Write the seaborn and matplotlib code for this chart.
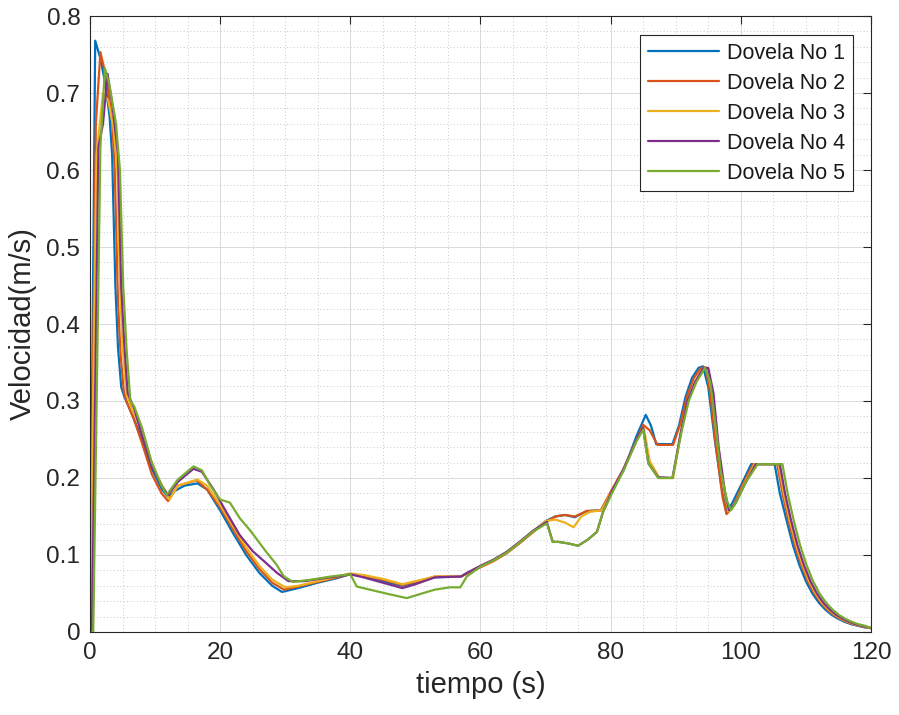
import numpy as np
import pandas as pd
import matplotlib
matplotlib.use("Agg")
import matplotlib.pyplot as plt
from matplotlib.ticker import MultipleLocator, FuncFormatter
import seaborn as sns

labels = ["Dovela No 1", "Dovela No 2", "Dovela No 3", "Dovela No 4", "Dovela No 5"]
colors = ["#0072BD", "#D95319", "#EDB120", "#7E2F8E", "#77AC30"]

t1 = [0, 0.8, 1.6, 2.4, 3.0, 3.4, 3.9, 4.3, 4.8, 5.3, 6.5, 8.0, 9.5, 11.0, 12.0, 13.0,
      14.5, 16.5, 18.0, 20.0, 22.0, 24.0, 26.0, 28.0, 29.5, 32, 35, 38, 40, 42, 45, 48,
      50, 53, 57, 58, 60, 62, 64, 66, 68, 70, 71.5, 73, 74.5, 76.3, 78.5, 80, 82, 84,
      85.4, 86.2, 87, 89.5, 90.5, 91.5, 92.5, 93.5, 94.2, 95, 96, 97, 97.8, 98.6, 100,
      101.6, 105.2, 106, 107, 108, 109, 110, 111, 112, 113, 114, 115, 116, 117, 118, 119, 120]
v1 = [0, 0.768, 0.745, 0.71, 0.67, 0.62, 0.45, 0.37, 0.318, 0.305, 0.282, 0.25, 0.212,
      0.186, 0.175, 0.183, 0.19, 0.193, 0.185, 0.158, 0.128, 0.100, 0.077, 0.060, 0.052,
      0.057, 0.064, 0.070, 0.075, 0.072, 0.066, 0.060, 0.064, 0.071, 0.072, 0.077, 0.085,
      0.093, 0.103, 0.116, 0.130, 0.144, 0.150, 0.152, 0.149, 0.157, 0.158, 0.18, 0.21,
      0.255, 0.282, 0.268, 0.244, 0.244, 0.268, 0.305, 0.330, 0.343, 0.345, 0.318, 0.25,
      0.19, 0.158, 0.166, 0.19, 0.218, 0.218, 0.18, 0.146, 0.113, 0.087, 0.066, 0.050,
      0.038, 0.029, 0.022, 0.017, 0.013, 0.010, 0.008, 0.006, 0.005]

t2 = [0, 0.9, 1.6, 2.5, 3.4, 3.8, 4.3, 4.7, 5.2, 5.6, 6.8, 8.0, 9.5, 11.0, 12.0, 13.5,
      16.4, 18.0, 20.0, 22.0, 24.0, 26.0, 28.0, 29.8, 32, 35, 38, 40, 42, 45, 48, 50, 53,
      57, 58, 60, 62, 64, 66, 68, 70, 71.5, 73, 74.5, 76.3, 78.5, 80, 82, 84, 85, 86,
      87.2, 89.6, 90.7, 91.7, 92.8, 93.8, 94.6, 95.3, 96.2, 97.2, 97.8, 98.8, 100.2,
      101.9, 105.6, 106.4, 107.3, 108.3, 109.3, 110.3, 111.3, 112.3, 113.3, 114.3, 115.3,
      116.3, 117.3, 118.3, 119.3, 120]
v2 = [0, 0.66, 0.753, 0.72, 0.665, 0.60, 0.43, 0.36, 0.312, 0.300, 0.275, 0.245, 0.205,
      0.18, 0.170, 0.19, 0.197, 0.185, 0.162, 0.133, 0.105, 0.082, 0.064, 0.055, 0.059,
      0.065, 0.071, 0.075, 0.073, 0.068, 0.061, 0.065, 0.072, 0.072, 0.076, 0.084, 0.092,
      0.102, 0.115, 0.129, 0.143, 0.150, 0.152, 0.150, 0.157, 0.158, 0.182, 0.212, 0.25,
      0.269, 0.262, 0.243, 0.243, 0.27, 0.305, 0.33, 0.342, 0.344, 0.31, 0.24, 0.175,
      0.153, 0.163, 0.19, 0.218, 0.218, 0.18, 0.146, 0.113, 0.087, 0.066, 0.050, 0.038,
      0.029, 0.022, 0.017, 0.013, 0.010, 0.008, 0.006, 0.005]

t3 = [0, 1.0, 2.0, 2.8, 3.6, 4.2, 4.6, 5.0, 5.6, 6.4, 7.5, 9.0, 10.5, 12.2, 13.5, 16.5,
      18.0, 20.0, 22.0, 24.0, 26.0, 28.0, 30.0, 32, 35, 38, 40, 42, 45, 48, 50, 53, 57,
      58, 60, 62, 64, 66, 68, 70, 71.5, 73, 74.3, 75.5, 76.8, 78.6, 80.2, 82, 84, 85.1,
      86, 87.5, 89.6, 90.8, 91.8, 93, 94, 94.8, 95.6, 96.5, 97.5, 98.1, 99, 100.4, 102.1,
      105.8, 106.6, 107.5, 108.5, 109.5, 110.5, 111.5, 112.5, 113.5, 114.5, 115.5, 116.5,
      117.5, 118.5, 119.5, 120]
v3 = [0, 0.62, 0.70, 0.69, 0.655, 0.60, 0.45, 0.37, 0.31, 0.29, 0.27, 0.23, 0.20, 0.172,
      0.19, 0.198, 0.19, 0.165, 0.137, 0.11, 0.086, 0.068, 0.058, 0.06, 0.066, 0.072,
      0.076, 0.074, 0.069, 0.062, 0.066, 0.072, 0.072, 0.077, 0.085, 0.093, 0.103, 0.116,
      0.130, 0.144, 0.146, 0.142, 0.136, 0.150, 0.156, 0.158, 0.183, 0.212, 0.25, 0.265,
      0.222, 0.2, 0.2, 0.26, 0.3, 0.325, 0.34, 0.343, 0.31, 0.24, 0.18, 0.157, 0.165,
      0.19, 0.218, 0.218, 0.18, 0.146, 0.113, 0.087, 0.066, 0.050, 0.038, 0.029, 0.022,
      0.017, 0.013, 0.010, 0.008, 0.006, 0.005]

t4 = [0, 0.3, 1.3, 2.0, 2.7, 3.5, 4.3, 4.8, 5.3, 5.8, 6.8, 8.0, 9.5, 11.0, 12.0, 13.5,
      15.9, 17.2, 19.0, 21.0, 23.0, 25.0, 27.0, 28.7, 30.5, 33, 36, 38, 40, 42, 45, 48,
      50, 53, 57, 58, 60, 62, 64, 66, 68, 70.2, 71.1, 72, 73.5, 75, 76.5, 77.9, 78.8,
      80.2, 82, 84, 85, 85.8, 87.3, 89.5, 90.8, 91.8, 93, 94.2, 95, 95.8, 96.6, 97.6,
      98.2, 99.1, 100.5, 102.3, 106, 106.8, 107.7, 108.7, 109.7, 110.7, 111.7, 112.7,
      113.7, 114.7, 115.7, 116.7, 117.7, 118.7, 119.7, 120]
v4 = [0, 0, 0.63, 0.66, 0.725, 0.68, 0.62, 0.45, 0.37, 0.31, 0.29, 0.255, 0.215, 0.19,
      0.178, 0.195, 0.212, 0.208, 0.185, 0.155, 0.126, 0.105, 0.09, 0.077, 0.066, 0.066,
      0.07, 0.072, 0.075, 0.071, 0.064, 0.057, 0.062, 0.071, 0.072, 0.077, 0.086, 0.094,
      0.104, 0.117, 0.131, 0.143, 0.117, 0.117, 0.115, 0.112, 0.12, 0.13, 0.155, 0.183,
      0.212, 0.25, 0.265, 0.219, 0.201, 0.2, 0.26, 0.3, 0.325, 0.342, 0.343, 0.31, 0.24,
      0.18, 0.158, 0.166, 0.19, 0.218, 0.218, 0.18, 0.146, 0.113, 0.087, 0.066, 0.050,
      0.038, 0.029, 0.022, 0.017, 0.013, 0.010, 0.008, 0.006, 0.005]

t5 = [0, 0.5, 1.6, 2.3, 3.0, 4.0, 4.6, 5.1, 5.6, 6.2, 6.8, 8.0, 9.5, 11.0, 11.8, 13.5,
      15.9, 17.2, 18.5, 20.0,
      21.5, 23.0, 24.6, 27.0, 28.7, 29.8, 31.2, 34, 37, 40, 41, 44, 46, 48.7, 51, 53,
      55.3, 56.9, 57.9, 60,
      62, 64, 66, 68, 70.2, 71.1, 72, 73.5, 75, 76.5, 77.9, 78.8, 80.2, 82,
      84, 85, 85.8, 87.3, 89.5, 90.9, 92, 93.2, 94.5, 95.3, 96.1, 96.9, 97.9, 98.5,
      99.4, 100.8, 102.6, 106.4, 107.2, 108.1, 109.1, 110.1, 111.1, 112.1, 113.1, 114.1,
      115.1, 116.1, 117.1, 118.1, 119.1, 120]
v5 = [0, 0, 0.63, 0.732, 0.71, 0.66, 0.60, 0.45, 0.37, 0.30, 0.293, 0.265, 0.22, 0.19,
      0.178, 0.198, 0.215, 0.21, 0.19, 0.172,
      0.168, 0.148, 0.132, 0.105, 0.087, 0.072, 0.065, 0.068, 0.072, 0.075, 0.059, 0.053,
      0.049, 0.044, 0.05, 0.055, 0.058, 0.058, 0.072, 0.085,
      0.093, 0.103, 0.116, 0.13, 0.141, 0.117, 0.117, 0.115, 0.112, 0.12, 0.13, 0.155,
      0.18, 0.21,
      0.248, 0.263, 0.219, 0.2, 0.2, 0.26, 0.3, 0.325, 0.343, 0.325, 0.27, 0.21, 0.17,
      0.158, 0.17, 0.195, 0.218, 0.218, 0.18, 0.146, 0.113, 0.087, 0.066, 0.050, 0.038,
      0.029, 0.022, 0.017, 0.013, 0.010, 0.008, 0.005]

times = [t1, t2, t3, t4, t5]
values = [v1, v2, v3, v4, v5]

frames = []
for name, t, v in zip(labels, times, values):
    assert len(t) == len(v), (name, len(t), len(v))
    frames.append(pd.DataFrame({"tiempo": t, "velocidad": v, "serie": name}))
df = pd.concat(frames, ignore_index=True)

sns.set_theme(style="white")
plt.rcParams["font.family"] = ["Liberation Sans", "DejaVu Sans"]
plt.rcParams["axes.linewidth"] = 0.8

fig = plt.figure(figsize=(8.99, 7.15), dpi=100)
ax = fig.add_axes([0.1001, 0.1161, 0.8687, 0.8615])

sns.lineplot(data=df, x="tiempo", y="velocidad", hue="serie", hue_order=labels,
             palette=colors, estimator=None, sort=False, linewidth=1.6, ax=ax)

ax.set_xlim(0, 120)
ax.set_ylim(0, 0.8)
ax.xaxis.set_major_locator(MultipleLocator(20))
ax.yaxis.set_major_locator(MultipleLocator(0.1))
ax.xaxis.set_minor_locator(MultipleLocator(5))
ax.yaxis.set_minor_locator(MultipleLocator(0.02))
ax.xaxis.set_major_formatter(FuncFormatter(lambda x, _: f"{x:.0f}"))
ax.yaxis.set_major_formatter(FuncFormatter(
    lambda y, _: "0" if abs(y) < 1e-9 else f"{y:.1f}"))

ax.grid(which="major", color="#d9d9d9", linewidth=0.7, linestyle="-")
ax.grid(which="minor", color="#b8b8b8", linewidth=0.6, linestyle=(0, (1, 3)))
ax.set_axisbelow(True)

ax.tick_params(which="major", direction="in", length=6, width=0.8, color="#262626",
               top=True, right=True, labelsize=17.5, labelcolor="#262626", pad=7)
ax.tick_params(which="minor", length=0)
for s in ax.spines.values():
    s.set_color("#262626")

ax.set_xlabel("tiempo (s)", fontsize=21, color="#262626", labelpad=5)
ax.set_ylabel("Velocidad(m/s)", fontsize=21, color="#262626", labelpad=7)

leg = ax.legend(loc="upper right", bbox_to_anchor=(0.977, 0.969), borderaxespad=0,
                fontsize=15.5, frameon=True, fancybox=False, framealpha=1,
                handlelength=3.3, handletextpad=0.4, labelspacing=0.42,
                borderpad=0.35)
leg.get_frame().set_edgecolor("#262626")
leg.get_frame().set_linewidth(0.8)
for line in leg.get_lines():
    line.set_linewidth(1.6)
for txt in leg.get_texts():
    txt.set_color("#1a1a1a")

fig.savefig("out.png", dpi=100)
